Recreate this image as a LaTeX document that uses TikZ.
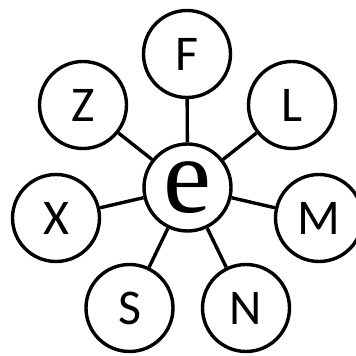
\documentclass[tikz,border=0pt]{standalone}
\usepackage{fontspec}
\setmainfont{Carlito}
\newfontfamily\serifE{Liberation Serif}
\begin{document}
\begin{tikzpicture}[x=1pt,y=1pt,
  ring/.style={circle,draw,line width=3.4pt,minimum size=87pt,inner sep=0pt,fill=white,font=\fontsize{50}{50}\selectfont},
  spoke/.style={line width=3.4pt}]
\useasboundingbox (0,0) rectangle (356,356);
\node[ring,font=\serifE\fontsize{108}{108}\selectfont] (e) at (187.5,168.5) {e};
\node[ring] (F) at (187,302) {F};
\node[ring] (Z) at (83,251) {Z};
\node[ring] (L) at (292,251) {L};
\node[ring] (X) at (56,138) {X};
\node[ring] (M) at (319,138) {M};
\node[ring] (S) at (129.5,48) {S};
\node[ring] (N) at (246,48) {N};
\foreach \n in {F,Z,L,X,M,S,N} \draw[spoke] (e) -- (\n);
\end{tikzpicture}
\end{document}
